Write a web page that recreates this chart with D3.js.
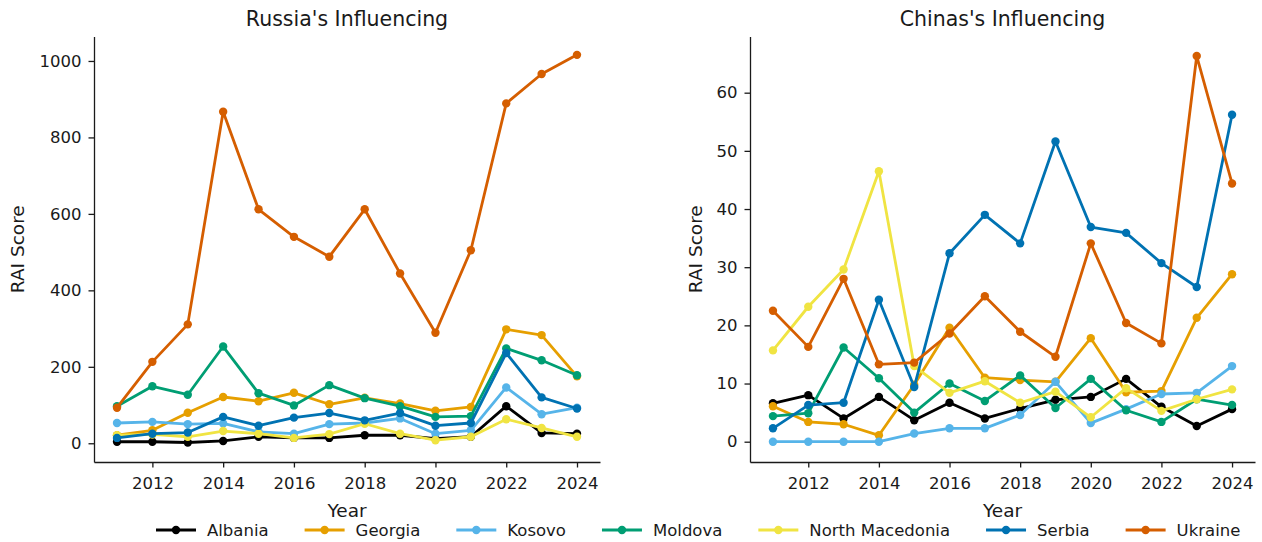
<!DOCTYPE html>
<html>
<head>
<meta charset="utf-8">
<script src="https://cdn.jsdelivr.net/npm/d3@7"></script>
<style>
  html, body { margin: 0; padding: 0; background: #fff; }
  svg { display: block; font-family: "DejaVu Sans", sans-serif; }
  .axis text { font-size: 16.5px; fill: #1a1a1a; font-family: "DejaVu Sans", sans-serif; }
  .axis path, .axis line { stroke: #1a1a1a; stroke-width: 1.3px; }
</style>
</head>
<body>
<svg id="chart" width="1262" height="542"></svg>
<script>
// Years covered by both panels
const years = [2011, 2012, 2013, 2014, 2015, 2016, 2017, 2018, 2019, 2020, 2021, 2022, 2023, 2024];
const countries = ["Albania", "Georgia", "Kosovo", "Moldova", "North Macedonia", "Serbia", "Ukraine"];
const colors = ["#000000", "#E69F00", "#56B4E9", "#009E73", "#F0E442", "#0072B2", "#D55E00"];

// Russia's influencing — RAI score per year
const ruAlbania   = [4, 4, 2, 6, 17, 14, 14, 21, 21, 12, 17, 97, 27, 25];
const ruGeorgia   = [21, 34, 80, 121, 110, 132, 102, 119, 104, 85, 95, 298, 283, 175];
const ruKosovo    = [53, 56, 50, 52, 30, 25, 50, 53, 65, 25, 34, 146, 76, 93];
const ruMoldova   = [97, 149, 127, 253, 131, 99, 152, 118, 97, 69, 71, 248, 217, 178];
const ruMacedonia = [21, 23, 17, 32, 25, 14, 24, 51, 25, 8, 17, 63, 40, 17];
const ruSerbia    = [14, 25, 28, 69, 46, 67, 79, 60, 79, 46, 53, 236, 120, 91];
const ruUkraine   = [93, 213, 311, 867, 612, 540, 488, 612, 444, 289, 505, 889, 966, 1016];

// China's influencing — RAI score per year
const cnAlbania   = [6.6, 8.0, 4.0, 7.7, 3.7, 6.7, 4.0, 5.7, 7.2, 7.7, 10.8, 6.0, 2.7, 5.6];
const cnGeorgia   = [6.1, 3.4, 3.0, 1.1, 9.8, 19.6, 11.0, 10.6, 10.3, 17.8, 8.5, 8.7, 21.3, 28.8];
const cnKosovo    = [0, 0, 0, 0, 1.4, 2.3, 2.3, 4.6, 10.3, 3.2, 5.6, 8.2, 8.4, 13.0];
const cnMoldova   = [4.4, 4.9, 16.2, 10.9, 5.0, 10.0, 7.0, 11.4, 5.8, 10.8, 5.4, 3.4, 7.3, 6.3];
const cnMacedonia = [15.7, 23.2, 29.6, 46.5, 13.0, 8.4, 10.4, 6.7, 8.6, 4.2, 9.2, 5.3, 7.3, 9.0];
const cnSerbia    = [2.3, 6.3, 6.7, 24.4, 9.4, 32.4, 39.0, 34.1, 51.6, 36.9, 35.9, 30.7, 26.6, 56.2];
const cnUkraine   = [22.5, 16.3, 28.0, 13.3, 13.6, 18.6, 25.0, 18.9, 14.6, 34.1, 20.4, 16.9, 66.3, 44.4];

// Tick values
const xTicks = [2012, 2014, 2016, 2018, 2020, 2022, 2024];
const ruYTicks = [0, 200, 400, 600, 800, 1000];
const cnYTicks = [0, 10, 20, 30, 40, 50, 60];

const ruSeries = [ruAlbania, ruGeorgia, ruKosovo, ruMoldova, ruMacedonia, ruSerbia, ruUkraine];
const cnSeries = [cnAlbania, cnGeorgia, cnKosovo, cnMoldova, cnMacedonia, cnSerbia, cnUkraine];

const svg = d3.select("#chart");

function drawPanel(opts) {
  const { left, right, top, bottom, yDomain, yTicks, series, title, yLabelX } = opts;
  const x = d3.scaleLinear().domain([2010.35, 2024.65]).range([left, right]);
  const y = d3.scaleLinear().domain(yDomain).range([bottom, top]);
  const g = svg.append("g");

  // axes (left and bottom spines only, no end caps)
  g.append("g").attr("class", "axis")
    .attr("transform", `translate(0,${bottom})`)
    .call(d3.axisBottom(x).tickValues(xTicks).tickFormat(d3.format("d"))
      .tickSize(5.5).tickSizeOuter(0).tickPadding(6))
    .call(s => s.selectAll("text").attr("dy", "0.95em"));
  g.append("g").attr("class", "axis")
    .attr("transform", `translate(${left},0)`)
    .call(d3.axisLeft(y).tickValues(yTicks).tickFormat(d3.format("d"))
      .tickSize(5.5).tickSizeOuter(0).tickPadding(7));

  // lines with point markers
  const line = d3.line().x((d, i) => x(years[i])).y(d => y(d));
  series.forEach((vals, k) => {
    g.append("path").datum(vals)
      .attr("d", line)
      .attr("fill", "none")
      .attr("stroke", colors[k])
      .attr("stroke-width", 2.8)
      .attr("stroke-linejoin", "round");
    g.selectAll(null).data(vals).enter().append("circle")
      .attr("cx", (d, i) => x(years[i]))
      .attr("cy", d => y(d))
      .attr("r", 4.2)
      .attr("fill", colors[k]);
  });

  // title and axis labels
  g.append("text")
    .attr("x", (left + right) / 2).attr("y", 26)
    .attr("text-anchor", "middle")
    .attr("font-size", 20.5).attr("fill", "#1a1a1a")
    .text(title);
  g.append("text")
    .attr("x", (left + right) / 2).attr("y", 517)
    .attr("text-anchor", "middle")
    .attr("font-size", 18.5).attr("fill", "#1a1a1a")
    .text("Year");
  g.append("text")
    .attr("transform", `translate(${yLabelX},${(top + bottom) / 2}) rotate(-90)`)
    .attr("text-anchor", "middle")
    .attr("font-size", 18.5).attr("fill", "#1a1a1a")
    .text("RAI Score");
}

drawPanel({
  left: 94, right: 600, top: 36.5, bottom: 462,
  yDomain: [-49, 1064], yTicks: ruYTicks, series: ruSeries,
  title: "Russia's Influencing", yLabelX: 24
});
drawPanel({
  left: 750, right: 1255, top: 36.5, bottom: 462,
  yDomain: [-3.49, 69.66], yTicks: cnYTicks, series: cnSeries,
  title: "Chinas's Influencing", yLabelX: 702
});

// shared legend along the bottom
const legend = svg.append("g").attr("transform", "translate(0,530)");
let cx = 156;
countries.forEach((name, k) => {
  const item = legend.append("g").attr("transform", `translate(${cx},0)`);
  item.append("line").attr("x1", 0).attr("x2", 40).attr("y1", 0).attr("y2", 0)
    .attr("stroke", colors[k]).attr("stroke-width", 2.8);
  item.append("circle").attr("cx", 20).attr("cy", 0).attr("r", 4.2).attr("fill", colors[k]);
  const t = item.append("text").attr("x", 51).attr("y", 6)
    .attr("font-size", 16.5).attr("fill", "#1a1a1a").text(name);
  cx += 51 + t.node().getComputedTextLength() + 36;
});
</script>
</body>
</html>
